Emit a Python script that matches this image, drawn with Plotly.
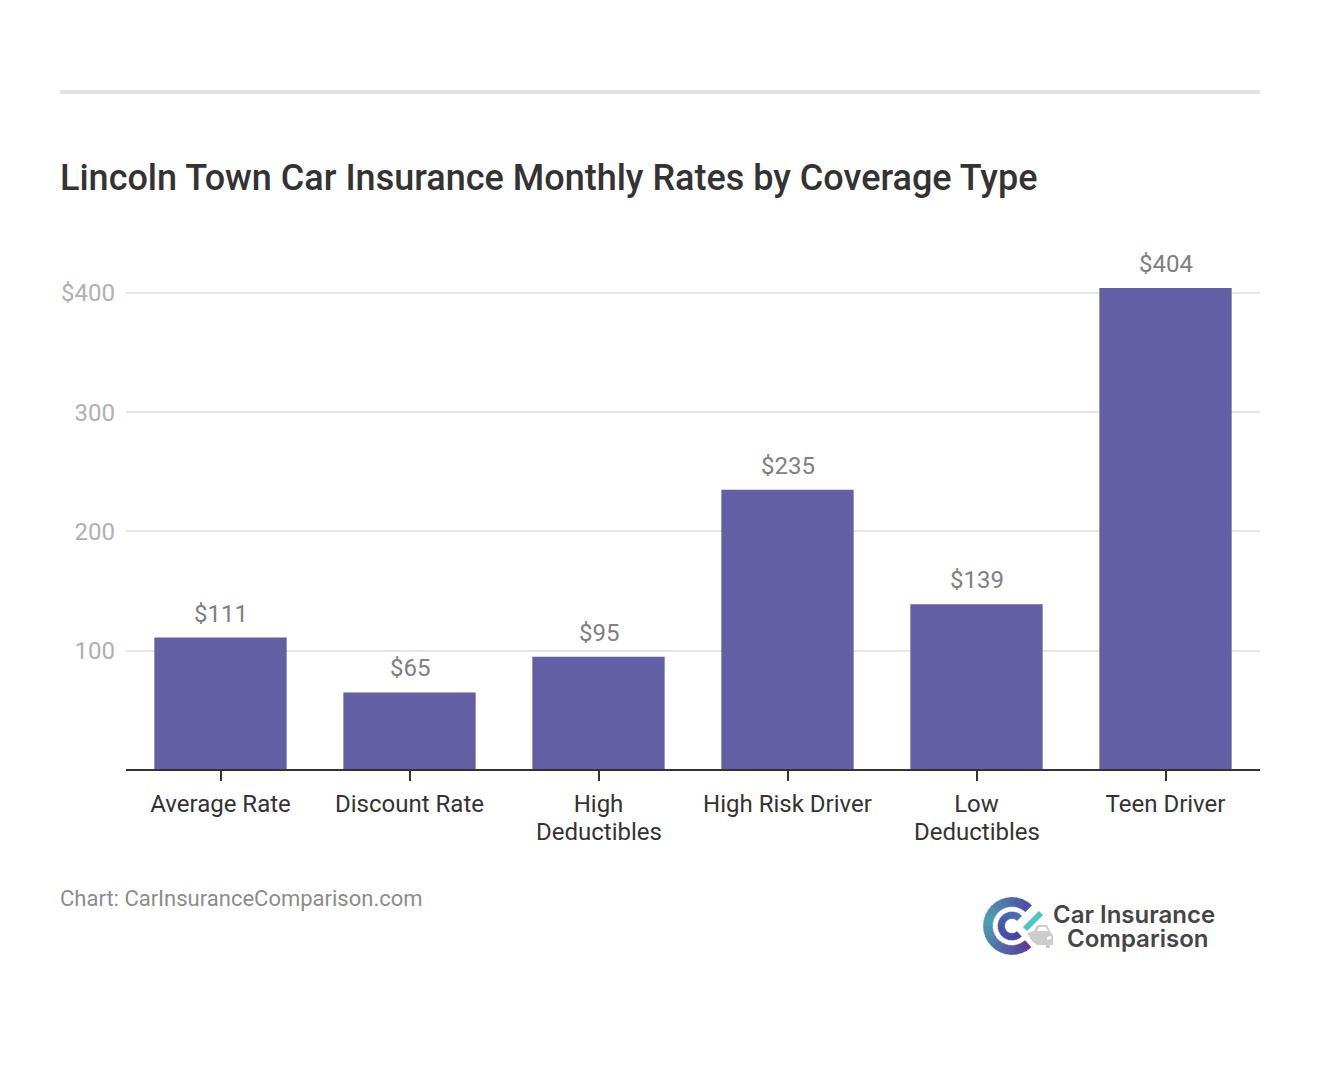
import numpy as np
import plotly.graph_objects as go

categories = ["Average Rate", "Discount Rate", "High Deductibles", "High Risk Driver", "Low Deductibles", "Teen Driver"]
tick_labels = ["Average Rate", "Discount Rate", "High", "High Risk Driver", "Low", "Teen Driver"]
second_lines = ["", "", "Deductibles", "", "Deductibles", ""]
rates = [111, 65, 95, 235, 139, 404]
y_ticks = [100, 200, 300, 400]
y_tick_labels = ["100", "200", "300", "$400"]

# the page body has an 8px margin, so the figure starts at (8, 8)
W, H = 1304, 1050
LEFT, RIGHT, TOP, BOTTOM = 126, 1260, 269, 770


def px(x):
    return (x - LEFT) / (RIGHT - LEFT)


def py(y):
    return (BOTTOM - y) / (BOTTOM - TOP)


def mix(c1, c2, t):
    return "rgb({},{},{})".format(*[int(round(a + (b - a) * t)) for a, b in zip(c1, c2)])


def poly(pts, color, edge=0):
    path = "M" + " L".join("{:.4f},{:.4f}".format(px(x), py(y)) for x, y in pts) + " Z"
    return dict(type="path", xref="paper", yref="paper", path=path, fillcolor=color,
                line=dict(width=edge, color=color), layer="above")


def arc_shape(cx, cy, r_out, r_in, a0, a1, color):
    # ring segment, angles in degrees, screen y pointing down
    ang = np.radians(np.linspace(a0, a1, 8))
    outer = [(cx + r_out * np.cos(a), cy + r_out * np.sin(a)) for a in ang]
    inner = [(cx + r_in * np.cos(a), cy + r_in * np.sin(a)) for a in ang[::-1]]
    return poly(outer + inner, color, 0.6)


fig = go.Figure()
fig.add_trace(go.Bar(x=categories, y=rates, marker_color="#645ea5", marker_line_width=0, width=0.7,
                     hoverinfo="x+y"))

# value labels above the bars
for c, v in zip(categories, rates):
    fig.add_annotation(x=c, y=v, text="${}".format(v), showarrow=False, yanchor="bottom", yshift=8,
                       font=dict(family="Roboto", size=24, color="#808080"))

# second line of the wrapped tick labels
for c, t in zip(categories, second_lines):
    if t:
        fig.add_annotation(x=c, y=py(832), yref="paper", text=t, showarrow=False, yanchor="middle",
                           font=dict(family="Roboto", size=24, color="#333333"))

shapes = [dict(type="line", xref="paper", yref="paper", x0=px(60), x1=px(1260), y0=py(92), y1=py(92),
               line=dict(color="#e2e2e2", width=4)),
          # x axis line, centred on the zero of the bars
          dict(type="line", xref="paper", yref="paper", x0=0, x1=1, y0=0, y1=0,
               line=dict(color="#333333", width=2), layer="above")]

# logo: two gradient rings, check stroke, grey car
teal, purple, blue = (78, 160, 182), (88, 62, 154), (74, 82, 164)
steps = 24
for i in range(steps):
    a0 = 48 + (312 - 48) * i / steps
    a1 = 48 + (312 - 48) * (i + 1) / steps + 1.5
    t = i / (steps - 1)
    col = mix(purple, teal, t / 0.55) if t < 0.55 else mix(teal, blue, (t - 0.55) / 0.45)
    shapes.append(arc_shape(1012, 926, 28.5, 19.5, a0, a1, col))
    col2 = mix((70, 65, 160), (72, 110, 175), t)
    shapes.append(arc_shape(1012, 926, 14, 7.5, a0, a1, col2))
car = [(1027, 933), (1034, 931), (1037, 925), (1047, 925), (1050, 931), (1053, 936), (1053, 945),
       (1050, 945), (1050, 948), (1046, 948), (1046, 945), (1037, 945), (1032, 941)]
shapes.append(poly(car, "#cccccc"))
shapes.append(poly([(1037, 931), (1039, 927), (1046, 927), (1048, 931)], "#ffffff"))
shapes.append(poly([(1047, 937), (1051, 936), (1051, 939), (1047, 940)], "#ffffff"))
shapes.append(dict(type="line", xref="paper", yref="paper", x0=px(1025), y0=py(929), x1=px(1041), y1=py(913),
                   line=dict(color="#4fc6bd", width=6), layer="above"))

notes = [
    dict(text="Lincoln Town Car Insurance Monthly Rates by Coverage Type", x=58, y=178, anchor="left",
         font=dict(family="Roboto", size=36, color="#333333", weight=500)),
    dict(text="Chart: CarInsuranceComparison.com", x=58, y=898, anchor="left",
         font=dict(family="Roboto", size=22, color="#8c8c8c")),
    dict(text="Car Insurance", x=1134, y=914, anchor="center",
         font=dict(family="Inter", size=24, color="#454545", weight=600)),
    dict(text="Comparison", x=1137, y=938, anchor="center",
         font=dict(family="Inter", size=24, color="#454545", weight=600)),
]
for n in notes:
    fig.add_annotation(text=n["text"], x=px(n["x"]), y=py(n["y"]), xref="paper", yref="paper",
                       xanchor=n["anchor"], yanchor="middle", showarrow=False, font=n["font"])

fig.update_layout(
    width=W, height=H, showlegend=False, plot_bgcolor="white", paper_bgcolor="white",
    margin=dict(l=LEFT - 8, r=W + 8 - RIGHT, t=TOP - 8, b=H + 8 - BOTTOM, pad=0),
    shapes=shapes,
    xaxis=dict(range=[-0.5, 5.5], tickmode="array", tickvals=categories, ticktext=tick_labels,
               showline=False, ticks="outside", ticklen=10, tickwidth=2,
               tickcolor="#333333", showgrid=False, zeroline=False, ticklabelstandoff=2,
               tickfont=dict(family="Roboto", size=24, color="#333333")),
    yaxis=dict(range=[0, 420], tickmode="array", tickvals=y_ticks, ticktext=y_tick_labels,
               showgrid=True, gridcolor="#e6e6e6", gridwidth=2, zeroline=False, showline=False,
               ticks="", ticklabelstandoff=10,
               tickfont=dict(family="Roboto", size=24, color="#b0b0b0")),
)

fig.write_html("out.html")
